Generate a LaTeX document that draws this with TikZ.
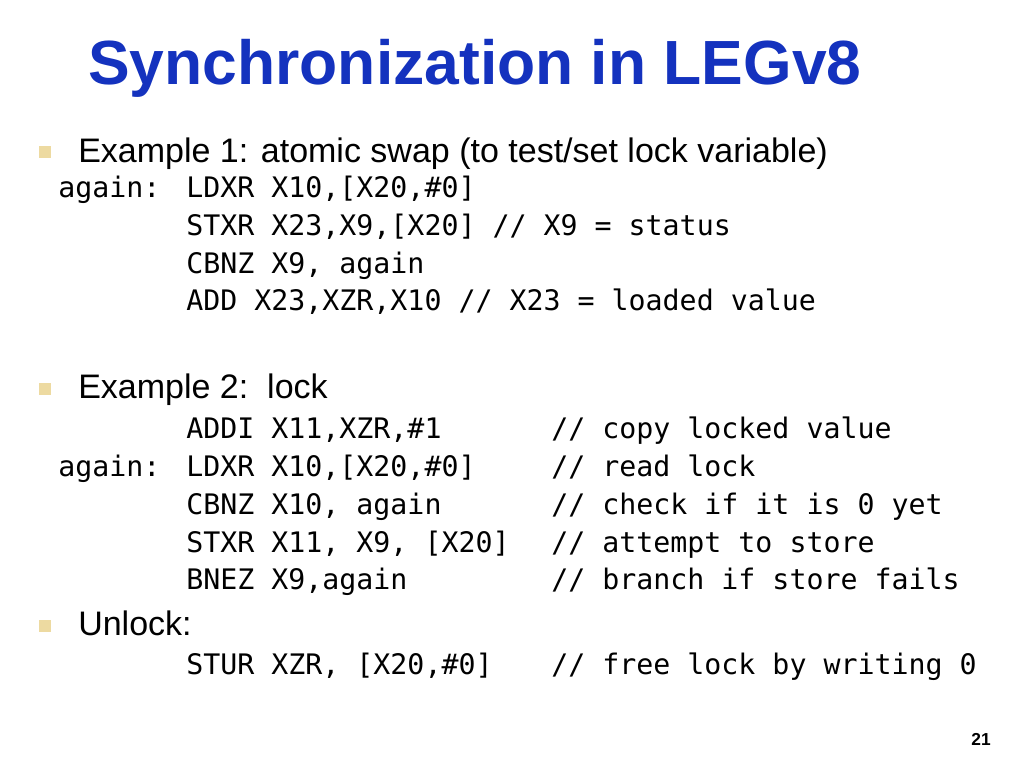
\documentclass[tikz,border=0pt]{standalone}
\usepackage{fontspec}
\setmainfont{Liberation Sans}
\newfontfamily\codefont{DejaVu Sans Mono}
\definecolor{titleblue}{RGB}{20,50,190}
\begin{document}
\begin{tikzpicture}[x=0.75pt,y=-0.75pt,
  txt/.style={anchor=base west,inner sep=0pt,font=\fontsize{25.5}{28}\selectfont},
  code/.style={anchor=base west,inner sep=0pt,font=\codefont\fontsize{21.2}{24}\selectfont},
  bul/.style={fill=yellow!35!brown!45,minimum size=9pt,inner sep=0pt}]
\useasboundingbox[fill=white] (0,0) rectangle (1024,768);
\node[anchor=base west,inner sep=0pt,font=\bfseries\fontsize{46.8}{52}\selectfont,text=titleblue] (title) at (88,84) {Synchronization in LEGv8};
\node[bul] (b1) at (45,152) {};
\node[txt] (e1) at (78,162) {Example 1: atomic swap (to test/set lock variable)};
\node[code] (l1) at (58,197) {again:};
\node[code] (c1) at (186,197) {LDXR X10,[X20,\#0]};
\node[code] (c2) at (186,235) {STXR X23,X9,[X20] // X9 = status};
\node[code] (c3) at (186,273) {CBNZ X9, again};
\node[code] (c4) at (186,310) {ADD X23,XZR,X10 // X23 = loaded value};
\node[bul] (b2) at (45,389) {};
\node[txt] (e2) at (78,398) {Example 2:\ \ lock};
\node[code] (d1) at (186,438) {ADDI X11,XZR,\#1};
\node[code] (k1) at (551,438) {// copy locked value};
\node[code] (l2) at (58,476) {again:};
\node[code] (d2) at (186,476) {LDXR X10,[X20,\#0]};
\node[code] (k2) at (551,476) {// read lock};
\node[code] (d3) at (186,514) {CBNZ X10, again};
\node[code] (k3) at (551,514) {// check if it is 0 yet};
\node[code] (d4) at (186,552) {STXR X11, X9, [X20]};
\node[code] (k4) at (551,552) {// attempt to store};
\node[code] (d5) at (186,589) {BNEZ X9,again};
\node[code] (k5) at (551,589) {// branch if store fails};
\node[bul] (b3) at (45,626) {};
\node[txt] (u) at (78,635) {Unlock:};
\node[code] (s1) at (186,674) {STUR XZR, [X20,\#0]};
\node[code] (s2) at (551,674) {// free lock by writing 0};
\node[anchor=base east,inner sep=0pt,font=\bfseries\fontsize{13}{15}\selectfont] (pg) at (991,745) {21};
\end{tikzpicture}
\end{document}
